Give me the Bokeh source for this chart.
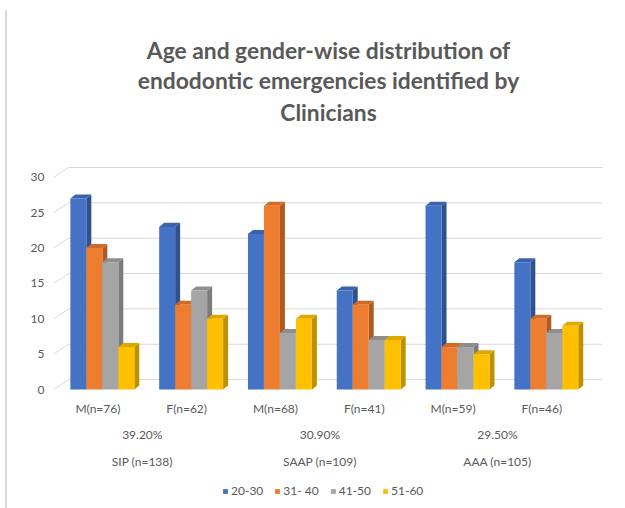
from bokeh.plotting import figure
from bokeh.models import (Range1d, LinearAxis, FixedTicker, Legend, LegendItem)
from bokeh.core.properties import value
from bokeh.embed import file_html
from bokeh.resources import INLINE

# Patients by sex within each diagnosis
categories = ["M(n=76)", "F(n=62)", "M(n=68)", "F(n=41)", "M(n=59)", "F(n=46)"]
shares = ["39.20%", "30.90%", "29.50%"]
diagnoses = ["SIP (n=138)", "SAAP (n=109)", "AAA (n=105)"]
age_groups = ["20-30", "31- 40", "41-50", "51-60"]
title_lines = ["Age and gender-wise distribution of",
               "endodontic emergencies identified by",
               "Clinicians"]

# Counts per age group, one value per category
age_20_30 = [27, 23, 22, 14, 26, 18]
age_31_40 = [20, 12, 26, 12, 6, 10]
age_41_50 = [18, 14, 8, 7, 6, 8]
age_51_60 = [6, 10, 10, 7, 5, 9]
series = [age_20_30, age_31_40, age_41_50, age_51_60]

y_ticks = [0, 5, 10, 15, 20, 25, 30]

front_colors = ["#4472C4", "#ED7D31", "#A5A5A5", "#FFC000"]
side_colors = ["#2F528F", "#AE5A21", "#7C7C7C", "#BF9000"]
top_colors = ["#3A62AD", "#CF6A27", "#8E8E8E", "#DDA600"]

TEXT = "#595959"
FONT = "Lato"

# pseudo-3D geometry (data units)
BAR_W = 0.18          # width of one column face
SHIFT = 0.05          # columns sit slightly right of the category tick
DEPTH_X = 0.056       # column depth, horizontal
DEPTH_Y = 0.57        # column depth, vertical
WALL_DX = 0.169       # back wall offset for gridlines
WALL_DY = 1.4
X_START, X_END = -0.5, 5.694
GRID_END = 5.682
Y_START, Y_END = -16.83, 55.02

# rows of text below and above the plotting area (data units)
ROW_CAT, ROW_SHARE, ROW_DIAG = -2.69, -6.36, -10.18
TITLE_ROWS = [47.95, 43.71, 39.19]

cat_pos = list(range(len(categories)))
pair_pos = [0.5, 2.5, 4.5]

p = figure(width=625, height=508,
           x_range=Range1d(X_START, X_END), y_range=Range1d(Y_START, Y_END),
           x_axis_type=None, y_axis_type=None,
           output_backend="svg", toolbar_location=None,
           min_border_left=53, min_border_right=22,
           min_border_top=0, min_border_bottom=0)
p.outline_line_color = None
p.background_fill_color = "white"
p.border_fill_alpha = 0
# chart-area edge on the left
p.styles = {"background": "linear-gradient(to right, transparent 5px, #D9D9D9 5px, "
                          "#D9D9D9 7px, transparent 7px) no-repeat 0 10px / 100% 498px"}

# gridlines on the back wall, joined to the front by a slanted stub
p.segment(x0=[X_START] * len(y_ticks), y0=y_ticks,
          x1=[X_START + WALL_DX] * len(y_ticks), y1=[v + WALL_DY for v in y_ticks],
          line_color="#D9D9D9", line_width=1)
p.segment(x0=[X_START + WALL_DX] * len(y_ticks), y0=[v + WALL_DY for v in y_ticks],
          x1=[GRID_END] * len(y_ticks), y1=[v + WALL_DY for v in y_ticks],
          line_color="#D9D9D9", line_width=1)

front_renderers = []
for k, values in enumerate(series):
    lefts = [c + SHIFT - 2 * BAR_W + k * BAR_W for c in cat_pos]
    rights = [l + BAR_W for l in lefts]
    side_xs = [[r, r + DEPTH_X, r + DEPTH_X, r] for r in rights]
    side_ys = [[0, DEPTH_Y, v + DEPTH_Y, v] for v in values]
    top_xs = [[l, l + DEPTH_X, r + DEPTH_X, r] for l, r in zip(lefts, rights)]
    top_ys = [[v, v + DEPTH_Y, v + DEPTH_Y, v] for v in values]
    p.patches(xs=side_xs, ys=side_ys, fill_color=side_colors[k], line_color=None)
    p.patches(xs=top_xs, ys=top_ys, fill_color=top_colors[k], line_color=None)
    r = p.quad(left=lefts, right=rights, bottom=0, top=values,
               fill_color=front_colors[k], line_color=None)
    front_renderers.append(r)

# value axis
yaxis = LinearAxis(ticker=FixedTicker(ticks=y_ticks))
yaxis.axis_line_color = None
yaxis.major_tick_line_color = None
yaxis.minor_tick_line_color = None
yaxis.major_tick_out = 0
yaxis.major_tick_in = 0
yaxis.major_label_standoff = 9
yaxis.major_label_text_font = FONT
yaxis.major_label_text_font_size = "12px"
yaxis.major_label_text_color = TEXT
p.add_layout(yaxis, "left")

# three rows of category labels
label_style = dict(text_font=value(FONT), text_font_size=value("12px"),
                   text_color=TEXT, text_align="center", text_baseline="middle")
p.text(x=cat_pos, y=[ROW_CAT] * len(cat_pos), text=categories, **label_style)
p.text(x=pair_pos, y=[ROW_SHARE] * len(pair_pos), text=shares, **label_style)
p.text(x=pair_pos, y=[ROW_DIAG] * len(pair_pos), text=diagnoses, **label_style)

# chart title
mid_x = (X_START + X_END) / 2
p.text(x=[mid_x] * len(title_lines), y=TITLE_ROWS, text=title_lines,
       text_font=value(FONT), text_font_size=value("22.8px"),
       text_font_style="bold", text_color=TEXT,
       text_align="center", text_baseline="middle")

legend = Legend(items=[LegendItem(label=a, renderers=[r])
                       for a, r in zip(age_groups, front_renderers)],
                orientation="horizontal", location=(169, 10),
                glyph_width=6, glyph_height=6, label_height=14,
                label_standoff=3, spacing=11,
                padding=0, margin=0, border_line_color=None,
                background_fill_alpha=0,
                label_text_font=FONT, label_text_font_size="12px",
                label_text_color=TEXT)
p.add_layout(legend, "center")

open("out.html", "w").write(file_html(p, INLINE))
